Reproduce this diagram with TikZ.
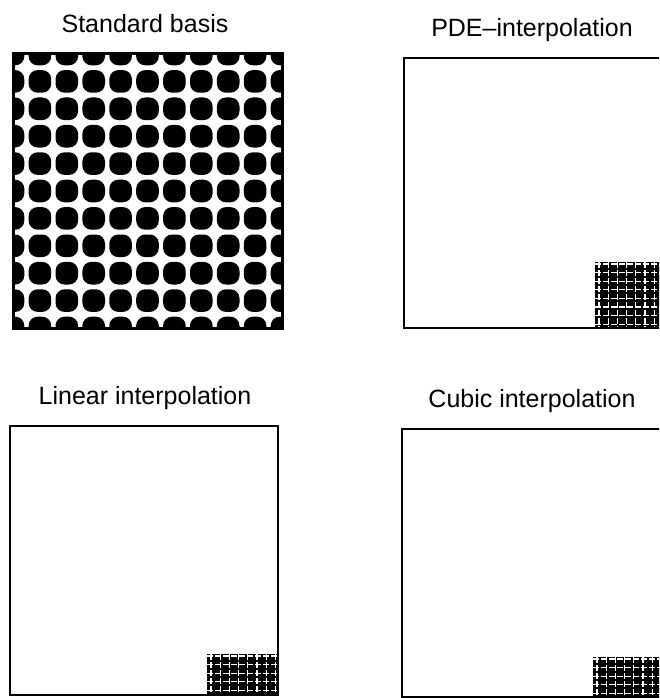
\documentclass[tikz,border=0pt]{standalone}
\usepackage{fontspec}
\setmainfont{Liberation Sans}
\newcommand\smallgrid[4]{%
  \fill[black] (#1,#2) rectangle ++(#3,#4);
  \begin{scope}
    \clip (#1,#2) rectangle ++(#3,#4);
    \foreach \k in {0,...,8} {
      \draw[gridline] (#1,{#2+2+\k*8.6}) -- ++(#3,0);
      \draw[gridline] ({#1+4+\k*9.2},#2) -- ++(0,#4);
    }
  \end{scope}}
\begin{document}
\begin{tikzpicture}[x=1pt,y=-1pt]
\tikzset{
  title/.style={font=\fontsize{25}{30}\selectfont, anchor=base},
  panel/.style={draw=black, line width=1.6pt},
  blob/.style={fill=black, rounded corners=9pt},
  gridline/.style={draw=white, line width=1.3pt, dash pattern=on 6pt off 2pt}
}
\useasboundingbox (0,0) rectangle (659,698);
\clip (0,0) rectangle (659,698);

\node[title] (t1) at (145,33) {Standard basis};
\node[title] (t2) at (532,37) {PDE--interpolation};
\node[title] (t3) at (145,404) {Linear interpolation};
\node[title] (t4) at (532,407) {Cubic interpolation};

% Standard basis panel
\begin{scope}
  \clip (13,54) rectangle (282,328);
  \foreach \i in {0,...,10} {
    \foreach \j in {0,...,10} {
      \fill[blob] ({13+26.9*\i-11.3},{54+27.4*\j-11.3}) rectangle ++(22.6,22.6);
    }
  }
\end{scope}
\draw[line width=3pt] (13,54) rectangle (282,328);

% PDE panel
\smallgrid{595}{262}{70}{65}
\draw[panel] (404,58) rectangle (690,328);

% Linear panel
\smallgrid{207}{654}{71}{41}
\draw[panel] (10,426) rectangle (278,695);

% Cubic panel
\smallgrid{593}{657}{70}{40}
\draw[panel] (402,429) rectangle (690,697);
\end{tikzpicture}
\end{document}
